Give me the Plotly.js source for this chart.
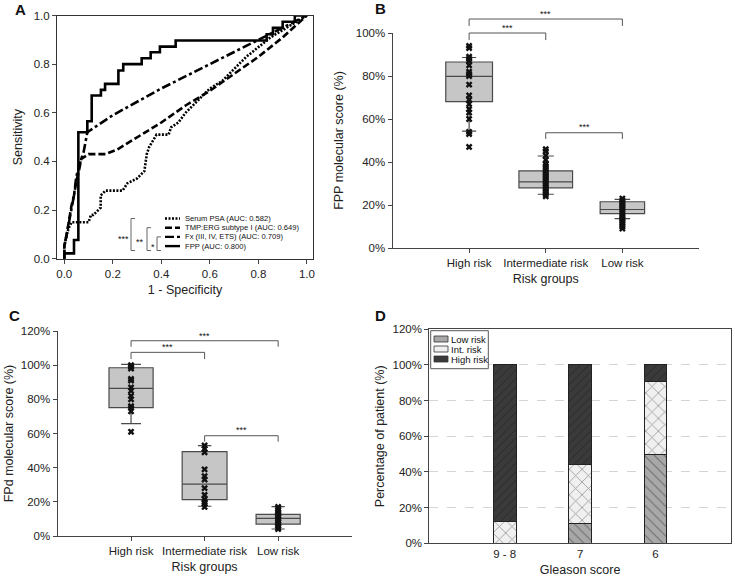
<!DOCTYPE html>
<html><head><meta charset="utf-8">
<script src="https://cdn.plot.ly/plotly-3.0.1.min.js"></script>
<style>html,body{margin:0;padding:0;background:#fff}#chart{width:735px;height:581px}</style>
</head><body><div id="chart"></div>
<script>
// ---------- Panel A: ROC curves (x = 1 - specificity, y = sensitivity) ----------
const psaX = [0, 0, 0.01, 0.02, 0.03, 0.1, 0.11, 0.12, 0.15, 0.15, 0.17, 0.24, 0.26, 0.3, 0.33, 0.34, 0.35, 0.38, 0.43, 0.44, 0.47, 0.5, 0.52, 0.55, 0.6, 0.65, 0.7, 0.75, 0.8, 0.85, 0.9, 0.95, 1];
const psaY = [0, 0.05, 0.1, 0.13, 0.15, 0.15, 0.18, 0.18, 0.21, 0.26, 0.28, 0.28, 0.31, 0.33, 0.36, 0.43, 0.46, 0.51, 0.51, 0.54, 0.56, 0.6, 0.62, 0.65, 0.7, 0.73, 0.78, 0.83, 0.87, 0.91, 0.94, 0.97, 1];
const tmpX = [0, 0, 0.01, 0.02, 0.03, 0.04, 0.05, 0.06, 0.07, 0.1, 0.17, 0.22, 0.3, 0.4, 0.5, 0.6, 0.7, 0.8, 0.9, 1];
const tmpY = [0, 0.05, 0.1, 0.17, 0.22, 0.26, 0.32, 0.36, 0.41, 0.43, 0.43, 0.45, 0.5, 0.56, 0.63, 0.69, 0.76, 0.83, 0.91, 1];
const fxX = [0, 0, 0.01, 0.02, 0.03, 0.04, 0.05, 0.06, 0.07, 0.08, 0.095, 0.2, 0.4, 0.6, 0.78, 0.9, 1];
const fxY = [0, 0.05, 0.1, 0.15, 0.2, 0.26, 0.34, 0.38, 0.41, 0.44, 0.52, 0.59, 0.7, 0.8, 0.89, 0.95, 1];
const fppX = [0, 0.04, 0.058, 0.095, 0.113, 0.151, 0.168, 0.223, 0.243, 0.319, 0.356, 0.394, 0.459, 0.834, 0.86, 0.9, 0.95, 1];
const fppY = [0, 0.022, 0.077, 0.52, 0.565, 0.671, 0.694, 0.719, 0.774, 0.8, 0.824, 0.849, 0.872, 0.897, 0.923, 0.949, 0.974, 1];
const rocNames = ['Serum PSA (AUC: 0.582)', 'TMP:ERG subtype I (AUC: 0.649)', 'Fx (III, IV, ETS) (AUC: 0.709)', 'FPP (AUC: 0.800)'];
const rocTicks = [0, 0.2, 0.4, 0.6, 0.8, 1.0];

// ---------- Panels B and C: box plots ----------
const riskGroups = ['High risk', 'Intermediate risk', 'Low risk'];
const bQ1 = [68.1, 28.0, 16.0];
const bMedian = [79.8, 30.8, 17.9];
const bQ3 = [86.5, 35.9, 21.5];
const bLow = [54.4, 25.0, 13.7];
const bHigh = [88.6, 42.8, 22.6];
const bHighPts = [47, 53, 54, 60, 63, 64.5, 67, 69, 71, 76, 80, 81, 82, 85, 87, 88, 89, 93, 94];
const bIntPts = [24, 25, 26, 27, 28, 29, 30, 31, 32, 33, 34, 35, 36, 37, 38, 39, 41, 43, 45, 46];
const bLowPts = [9, 10, 11, 12, 13, 14, 15, 16, 17, 18, 19, 20, 21, 22, 23];

const cQ1 = [75.1, 21.3, 7.0];
const cMedian = [86.4, 30.4, 10.3];
const cQ3 = [98.5, 49.4, 12.7];
const cLow = [65.8, 17.4, 4.1];
const cHigh = [100.5, 52.9, 17.2];
const cHighPts = [61, 73, 75, 76, 80, 82, 85, 87, 91, 92, 98, 99, 100];
const cIntPts = [17, 19, 20, 21.5, 24, 28, 33, 35, 39, 49, 51, 53];
const cLowPts = [4, 5, 6, 7, 8, 9, 10, 11, 12, 13, 14, 15, 16, 17];

// ---------- Panel D: stacked bars ----------
const gleason = ['9 - 8', '7', '6'];
const lowRiskPct = [0, 11.1, 50.0];
const intRiskPct = [12.5, 33.3, 40.9];
const highRiskPct = [87.5, 55.6, 9.1];
const dLegend = ['Low risk', 'Int. risk', 'High risk'];

// ================= build =================
const W = 735, H = 581;
const px = v => v / W;
const py = v => 1 - v / H;
const FONT = 'Liberation Sans, Arial, sans-serif';
const TXT = '#222';

const traces = [];
// ROC
const rocStyles = [
  {dash: '2px,1.5px', width: 2.6},
  {dash: '7px,3px', width: 2.6},
  {dash: '9px,3px,3px,3px', width: 2.6},
  {dash: 'solid', width: 2.6}
];
const rocData = [[psaX, psaY, 'linear'], [tmpX, tmpY, 'linear'], [fxX, fxY, 'linear'], [fppX, fppY, 'vh']];
rocData.forEach((d, i) => {
  traces.push({type: 'scatter', mode: 'lines', x: d[0], y: d[1], name: rocNames[i],
    line: {color: '#000', width: rocStyles[i].width, dash: rocStyles[i].dash, shape: d[2]},
    xaxis: 'x', yaxis: 'y', showlegend: false, hoverinfo: 'skip'});
});

function addBoxes(xa, ya, q1, med, q3, lo, hi, widths, ww, pts) {
  for (let i = 0; i < 3; i++) {
    traces.push({type: 'box', xaxis: xa, yaxis: ya, x: [i], q1: [q1[i]], median: [med[i]], q3: [q3[i]],
      lowerfence: [lo[i]], upperfence: [hi[i]], width: widths[i], whiskerwidth: ww[i],
      fillcolor: '#c6c6c6', line: {color: '#4a4a4a', width: 1.2}, boxpoints: false,
      showlegend: false, hoverinfo: 'skip', name: riskGroups[i]});
  }
  pts.forEach((p, i) => {
    traces.push({type: 'scatter', mode: 'markers', xaxis: xa, yaxis: ya,
      x: p.map(() => i), y: p, marker: {symbol: 'x', size: 6, color: '#111', line: {width: 0}},
      showlegend: false, hoverinfo: 'skip', name: riskGroups[i]});
  });
}
addBoxes('x2', 'y2', bQ1, bMedian, bQ3, bLow, bHigh, [0.61, 0.7, 0.58], [0.3, 0.3, 0.35], [bHighPts, bIntPts, bLowPts]);
addBoxes('x3', 'y3', cQ1, cMedian, cQ3, cLow, cHigh, [0.6, 0.61, 0.6], [0.45, 0.3, 0.3], [cHighPts, cIntPts, cLowPts]);

// Stacked bars
const barDefs = [
  {y: lowRiskPct, name: dLegend[0], bg: '#a8a8a8', fg: '#333', shape: '\\', size: 7, sol: 0.15},
  {y: intRiskPct, name: dLegend[1], bg: '#f0f0f0', fg: '#444', shape: 'x', size: 9, sol: 0.18},
  {y: highRiskPct, name: dLegend[2], bg: '#3a3a3a', fg: '#151515', shape: '/', size: 6, sol: 0.15}
];
barDefs.forEach(b => {
  traces.push({type: 'bar', xaxis: 'x4', yaxis: 'y4', x: [0, 1, 2], y: b.y, name: b.name, width: 0.3,
    marker: {color: b.bg, line: {color: '#222', width: 1},
      pattern: {shape: b.shape, fgcolor: b.fg, bgcolor: b.bg, size: b.size, solidity: b.sol, fillmode: 'overlay'}},
    showlegend: false, hoverinfo: 'skip'});
});

// ---------- shapes / annotations ----------
const shapes = [];
const ann = [];
const tickFont = {family: FONT, size: 11.5, color: TXT};
const titleFont = {family: FONT, size: 12.5, color: TXT};

function pline(x0, y0, x1, y1, color, width, dash) {
  shapes.push({type: 'line', xref: 'paper', yref: 'paper', x0: px(x0), y0: py(y0), x1: px(x1), y1: py(y1),
    line: {color: color, width: width, dash: dash || 'solid'}, layer: 'above'});
}
function ptext(x, y, text, size, anchor, bold) {
  ann.push({xref: 'paper', yref: 'paper', x: px(x), y: py(y), text: bold ? '<b>' + text + '</b>' : text,
    showarrow: false, xanchor: anchor || 'center', yanchor: 'middle',
    font: {family: FONT, size: size, color: '#111'}});
}

// Panel A legend (drawn inside plot)
const legRows = [218.5, 227.7, 236.9, 246.1];
legRows.forEach((r, i) => {
  pline(165, r, 180, r, '#000', 2.4, rocStyles[i].dash);
  ptext(182.5, r, rocNames[i], 7.6, 'left');
});
// significance brackets in panel A
const brBottom = 250.5;
[[131, legRows[0]], [147, legRows[1]], [157, legRows[2]]].forEach(b => {
  pline(b[0], b[1], b[0], brBottom, '#666', 1);
  pline(b[0], b[1], b[0] + 4, b[1], '#666', 1);
  pline(b[0], brBottom, b[0] + 4, brBottom, '#666', 1);
});
ptext(124, 238.5, '***', 9);
ptext(140, 241.5, '**', 9);
ptext(153.3, 246.5, '*', 9);

// brackets for B (domain refs) and C (data refs)
function bracket(xa, ya, x1, x2, yTop, yBot, ylab) {
  const s = {xref: xa, yref: ya, type: 'line', line: {color: '#555', width: 1}, layer: 'above'};
  shapes.push(Object.assign({}, s, {x0: x1, x1: x1, y0: yBot, y1: yTop}));
  shapes.push(Object.assign({}, s, {x0: x1, x1: x2, y0: yTop, y1: yTop}));
  shapes.push(Object.assign({}, s, {x0: x2, x1: x2, y0: yBot, y1: yTop}));
  ann.push({xref: xa, yref: ya, x: (x1 + x2) / 2, y: ylab, text: '***', showarrow: false,
    xanchor: 'center', yanchor: 'middle', font: {family: FONT, size: 9, color: '#111'}});
}
bracket('x2', 'y2 domain', 0, 2, 1.065, 1.033, 1.09);
bracket('x2', 'y2 domain', 0, 1, 1.0, 0.967, 1.022);
bracket('x2', 'y2 domain', 1, 2, 0.536, 0.507, 0.562);
bracket('x3', 'y3', 0, 2, 114.3, 110.8, 117.3);
bracket('x3', 'y3', 0, 1, 107.5, 103.6, 110.4);
bracket('x3', 'y3', 1, 2, 58.7, 55.2, 61.8);

// Panel D legend box
shapes.push({type: 'rect', xref: 'paper', yref: 'paper', x0: px(430.7), x1: px(488.3), y0: py(368.7), y1: py(330.7),
  fillcolor: '#fff', line: {color: '#555', width: 1}, layer: 'above'});
const dRows = [339, 349, 359];
barDefs.forEach((b, i) => {
  shapes.push({type: 'rect', xref: 'paper', yref: 'paper', x0: px(434), x1: px(448), y0: py(dRows[i] + 3), y1: py(dRows[i] - 3),
    fillcolor: b.bg, line: {color: '#333', width: 0.8}, layer: 'above'});
  ptext(449, dRows[i], b.name, 9.5, 'left');
});

// Panel labels
ptext(20, 10, 'A', 15, 'center', true);
ptext(380, 9, 'B', 15, 'center', true);
ptext(14, 315, 'C', 15, 'center', true);
ptext(380, 315, 'D', 15, 'center', true);

const baseAx = {showgrid: false, zeroline: false, ticks: 'outside', ticklen: 4, tickcolor: '#444',
  showline: true, linecolor: '#444', linewidth: 1, tickfont: tickFont, fixedrange: true};

const layout = {
  width: W, height: H, margin: {l: 0, r: 0, t: 0, b: 0}, paper_bgcolor: '#fff', plot_bgcolor: 'rgba(0,0,0,0)',
  showlegend: false, font: {family: FONT, color: TXT}, barmode: 'stack',
  xaxis: Object.assign({}, baseAx, {domain: [px(57), px(313)], range: [-0.03, 1.025], anchor: 'y', mirror: true,
    linecolor: '#333', tickvals: rocTicks, tickformat: '.1f',
    title: {text: '1 - Specificity', font: titleFont, standoff: 6}}),
  yaxis: Object.assign({}, baseAx, {domain: [py(258.7), py(15.5)], range: [0, 1], anchor: 'x', mirror: true,
    linecolor: '#333', tickvals: rocTicks, tickformat: '.1f',
    title: {text: 'Sensitivity', font: titleFont, standoff: 8}}),
  xaxis2: Object.assign({}, baseAx, {domain: [px(392.5), px(699)], range: [-1, 3], anchor: 'y2',
    tickvals: [0, 1, 2], ticktext: riskGroups, title: {text: 'Risk groups', font: titleFont, standoff: 6}}),
  yaxis2: Object.assign({}, baseAx, {domain: [py(248), py(33)], range: [0, 100], anchor: 'x2', dtick: 20, ticksuffix: '%',
    title: {text: 'FPP molecular score (%)', font: titleFont, standoff: 9}}),
  xaxis3: Object.assign({}, baseAx, {domain: [px(57.5), px(351.7)], range: [-1, 3], anchor: 'y3',
    tickvals: [0, 1, 2], ticktext: riskGroups, title: {text: 'Risk groups', font: titleFont, standoff: 6}}),
  yaxis3: Object.assign({}, baseAx, {domain: [py(536), py(331)], range: [0, 120], anchor: 'x3', dtick: 20, ticksuffix: '%',
    title: {text: 'FPd molecular score (%)', font: titleFont, standoff: 4}}),
  xaxis4: Object.assign({}, baseAx, {domain: [px(429.3), px(731)], range: [-1, 3], anchor: 'y4', mirror: true, ticks: '',
    tickvals: [0, 1, 2], ticktext: gleason, title: {text: 'Gleason score', font: titleFont, standoff: 6}}),
  yaxis4: Object.assign({}, baseAx, {domain: [py(543.3), py(329.3)], range: [0, 120], anchor: 'x4', dtick: 20, ticksuffix: '%',
    mirror: true, showgrid: true, gridcolor: '#d4d4d4', griddash: 'dash', gridwidth: 1,
    title: {text: 'Percentage of patient (%)', font: titleFont, standoff: 5}}),
  shapes: shapes, annotations: ann
};

Plotly.newPlot('chart', traces, layout, {staticPlot: true, displayModeBar: false});
</script>
</body></html>
